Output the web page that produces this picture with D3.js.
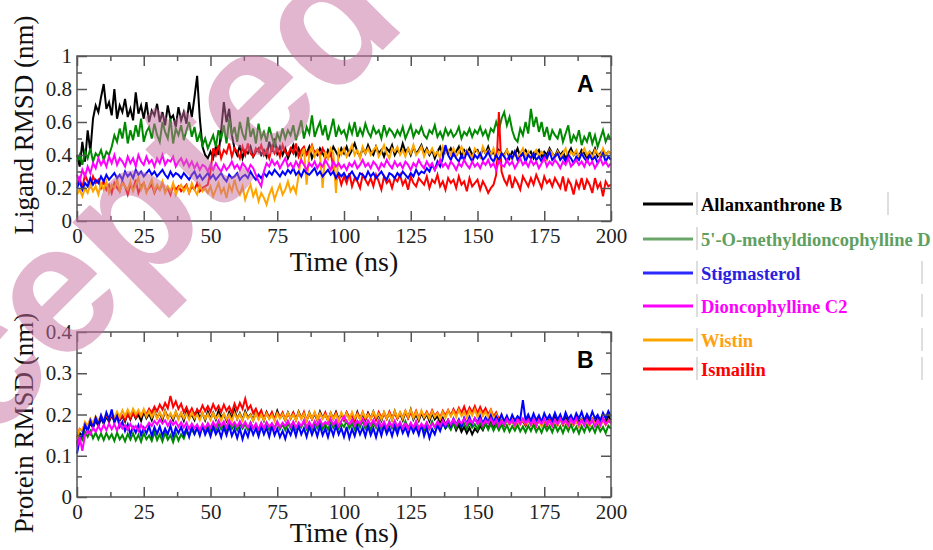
<!DOCTYPE html>
<html>
<head>
<meta charset="utf-8">
<script src="https://cdn.jsdelivr.net/npm/d3@7"></script>
<style>
  body { margin: 0; background: #fff; }
  svg { display: block; }
</style>
</head>
<body>
<div id="chart"></div>
<script>
// ── Data (1 ns sampling, 0–200 ns) ──────────────────────────────────────────
const names = ['Allanxanthrone B', "5'-O-methyldioncophylline D", 'Stigmasterol',
               'Dioncophylline C2', 'Wistin', 'Ismailin'];
const lineColors   = ['#000000', '#008a00', '#0000ff', '#ff00ff', '#ffa500', '#ff0000'];
const legendLine   = ['#000000', '#6aa56a', '#2a2aff', '#ff00ff', '#ffa500', '#ff0000'];
const legendText   = ['#000000', '#5f9f5f', '#2a1fe0', '#ff00ff', '#ffa010', '#ff0000'];
const drawOrder    = [0, 1, 5, 4, 2, 3];

const xTicks = [0, 25, 50, 75, 100, 125, 150, 175, 200];
const ligandTicks  = [0, 0.2, 0.4, 0.6, 0.8, 1];
const proteinTicks = [0, 0.1, 0.2, 0.3, 0.4];

// Ligand RMSD (nm)
const ligAllanxanthrone = [
.40,.33,.48,.36,.55,.42,.62,.70,.66,.75, .83,.68,.72,.64,.80,.62,.70,.66,.74,.63,
.68,.61,.78,.65,.70,.62,.72,.60,.67,.64, .71,.60,.66,.58,.70,.62,.64,.57,.69,.61,
.66,.59,.72,.63,.75,.88,.62,.45,.40,.38, .42,.38,.45,.40,.55,.72,.60,.68,.52,.44,
.40,.46,.38,.43,.41,.45,.39,.42,.44,.40, .43,.39,.48,.42,.50,.41,.45,.40,.44,.38,
.42,.46,.40,.44,.39,.43,.41,.45,.38,.42, .40,.44,.41,.38,.43,.40,.45,.42,.39,.44,
.41,.45,.40,.43,.47,.42,.39,.44,.41,.46, .42,.40,.45,.41,.43,.39,.44,.42,.46,.40,
.43,.41,.47,.42,.44,.40,.45,.41,.43,.46, .41,.44,.40,.43,.38,.42,.45,.40,.43,.41,
.44,.40,.42,.45,.39,.43,.41,.44,.40,.42, .43,.39,.44,.41,.45,.40,.42,.38,.43,.41,
.40,.43,.38,.42,.40,.44,.39,.41,.43,.40, .42,.38,.41,.43,.39,.42,.40,.44,.41,.39,
.43,.40,.42,.38,.41,.44,.40,.42,.39,.43, .41,.38,.42,.40,.44,.39,.41,.43,.40,.42,
.41];
const ligMethyl = [
.36,.40,.34,.42,.38,.44,.36,.41,.39,.43, .37,.42,.40,.45,.52,.48,.56,.50,.60,.47,
.55,.49,.58,.51,.62,.48,.54,.57,.50,.59, .52,.48,.60,.54,.50,.62,.47,.56,.52,.58,
.49,.55,.60,.51,.57,.48,.53,.46,.50,.44, .48,.52,.45,.55,.50,.58,.47,.62,.52,.57,
.48,.60,.53,.49,.63,.51,.56,.47,.59,.50, .54,.48,.57,.51,.46,.53,.49,.56,.50,.55,
.52,.58,.49,.55,.61,.50,.57,.53,.64,.51, .56,.60,.52,.58,.49,.55,.62,.51,.57,.53,
.55,.50,.58,.53,.60,.51,.56,.52,.59,.54, .51,.57,.53,.55,.50,.58,.52,.56,.54,.51,
.55,.52,.57,.50,.54,.58,.51,.55,.53,.57, .52,.50,.55,.53,.58,.51,.54,.50,.56,.52,
.55,.51,.53,.57,.50,.54,.52,.56,.51,.55, .53,.57,.52,.55,.50,.56,.54,.60,.55,.62,
.66,.58,.63,.55,.50,.48,.56,.52,.60,.53, .68,.57,.63,.54,.60,.51,.57,.49,.55,.52,
.50,.56,.48,.53,.58,.47,.52,.49,.55,.46, .51,.48,.54,.47,.52,.45,.50,.55,.48,.52,
.49];
const ligStigmasterol = [
.20,.24,.19,.23,.21,.26,.22,.25,.23,.27, .24,.28,.25,.27,.29,.26,.28,.25,.30,.27,
.29,.26,.31,.28,.30,.27,.29,.31,.28,.30, .27,.29,.31,.28,.26,.30,.27,.29,.28,.26,
.29,.27,.25,.28,.30,.26,.28,.25,.27,.29, .26,.28,.25,.27,.29,.26,.24,.28,.26,.27,
.29,.25,.27,.28,.26,.30,.27,.25,.28,.26, .29,.27,.30,.28,.31,.29,.27,.30,.28,.31,
.29,.32,.28,.30,.27,.31,.29,.28,.30,.32, .28,.30,.27,.29,.31,.28,.30,.26,.29,.27,
.29,.26,.28,.30,.27,.25,.29,.28,.26,.30, .27,.29,.26,.28,.30,.27,.25,.29,.28,.26,
.29,.27,.30,.28,.26,.29,.27,.31,.28,.30, .29,.32,.30,.34,.31,.36,.33,.38,.46,.40,
.37,.41,.38,.36,.40,.37,.42,.39,.36,.40, .38,.41,.37,.39,.42,.38,.36,.40,.37,.41,
.39,.36,.40,.38,.42,.37,.39,.41,.36,.40, .38,.41,.37,.39,.36,.40,.38,.42,.37,.39,
.41,.37,.39,.36,.40,.38,.35,.39,.37,.41, .38,.36,.40,.37,.39,.35,.38,.41,.36,.39,
.37];
const ligDioncophylline = [
.28,.24,.31,.27,.33,.29,.35,.32,.38,.34, .37,.33,.39,.35,.40,.34,.38,.36,.33,.39,
.35,.38,.33,.40,.36,.34,.39,.35,.37,.33, .38,.35,.40,.34,.37,.36,.39,.33,.36,.38,
.34,.37,.33,.36,.32,.35,.31,.34,.33,.30, .34,.31,.35,.32,.30,.34,.31,.33,.36,.32,
.34,.31,.35,.33,.30,.34,.32,.28,.24,.21, .30,.35,.33,.37,.34,.36,.32,.35,.38,.33,
.35,.32,.36,.33,.37,.34,.31,.35,.33,.36, .32,.35,.33,.37,.34,.31,.36,.33,.35,.32,
.34,.31,.35,.33,.36,.32,.34,.37,.33,.35, .32,.36,.34,.31,.35,.33,.37,.34,.32,.36,
.33,.35,.32,.36,.34,.31,.35,.33,.37,.34, .32,.36,.33,.35,.31,.34,.37,.33,.35,.32,
.36,.34,.31,.35,.33,.37,.34,.32,.36,.33, .35,.32,.36,.34,.37,.33,.35,.31,.36,.34,
.33,.37,.34,.36,.32,.35,.38,.34,.36,.33, .37,.34,.36,.32,.35,.38,.33,.36,.34,.37,
.35,.32,.36,.34,.38,.33,.35,.37,.34,.36, .33,.37,.34,.36,.32,.35,.38,.34,.36,.33,
.35];
const ligWistin = [
.16,.19,.15,.20,.17,.22,.18,.21,.16,.23, .19,.24,.17,.22,.20,.25,.18,.23,.21,.19,
.24,.18,.22,.26,.19,.23,.17,.21,.25,.18, .22,.19,.24,.17,.21,.18,.23,.16,.20,.22,
.18,.21,.17,.23,.19,.16,.22,.18,.20,.17, .21,.15,.19,.23,.17,.20,.14,.22,.18,.25,
.19,.16,.21,.13,.18,.22,.15,.19,.12,.17, .14,.10,.16,.20,.13,.18,.22,.16,.19,.24,
.18,.21,.17,.28,.40,.44,.22,.41,.45,.39, .43,.40,.20,.42,.38,.44,.41,.17,.43,.40,
.44,.39,.42,.46,.40,.43,.38,.45,.41,.44, .40,.43,.45,.39,.42,.46,.41,.38,.44,.42,
.45,.40,.43,.39,.44,.41,.46,.40,.42,.45, .39,.43,.41,.44,.40,.42,.38,.45,.41,.43,
.40,.44,.39,.42,.45,.40,.43,.41,.38,.44, .42,.39,.45,.41,.43,.40,.44,.38,.42,.41,
.39,.43,.40,.37,.42,.38,.41,.44,.39,.42, .38,.41,.43,.39,.42,.40,.37,.43,.41,.38,
.42,.39,.41,.44,.38,.42,.40,.43,.39,.41, .44,.40,.42,.38,.43,.41,.39,.44,.40,.42,
.41];
const ligIsmailin = [
.22,.26,.20,.28,.24,.21,.27,.23,.25,.20, .24,.19,.22,.17,.23,.20,.18,.24,.21,.16,
.22,.19,.25,.17,.21,.23,.18,.20,.22,.17, .21,.19,.23,.18,.20,.16,.22,.19,.21,.18,
.20,.22,.17,.21,.19,.23,.18,.20,.21,.22, .30,.44,.40,.46,.38,.43,.41,.47,.39,.44,
.42,.38,.45,.40,.47,.41,.39,.44,.42,.46, .40,.43,.38,.45,.41,.44,.39,.46,.42,.40,
.44,.41,.47,.39,.43,.45,.40,.42,.46,.41, .43,.39,.44,.41,.38,.42,.32,.24,.28,.22,
.27,.23,.29,.21,.26,.24,.20,.28,.25,.22, .26,.21,.28,.24,.19,.27,.23,.25,.20,.26,
.24,.28,.22,.25,.19,.27,.23,.21,.26,.24, .22,.27,.20,.25,.23,.28,.21,.24,.19,.26,
.23,.25,.20,.27,.22,.24,.18,.26,.21,.23, .25,.19,.24,.21,.17,.20,.22,.28,.66,.30,
.25,.22,.28,.20,.26,.23,.19,.27,.24,.21, .26,.22,.28,.24,.20,.27,.23,.25,.21,.26,
.23,.20,.27,.18,.25,.22,.16,.24,.20,.26, .19,.25,.22,.17,.26,.20,.23,.15,.24,.21,
.22];

// Protein RMSD (nm)
const protAllanxanthrone = [
.130,.155,.148,.172,.160,.180,.168,.186,.172,.190, .178,.195,.182,.198,.184,.201,.186,.196,.183,.203,
.188,.206,.190,.200,.185,.207,.191,.202,.186,.208, .192,.204,.187,.209,.193,.201,.186,.206,.190,.203,
.185,.208,.192,.200,.187,.210,.191,.203,.186,.207, .190,.204,.188,.209,.193,.201,.185,.206,.191,.211,
.189,.203,.187,.208,.192,.200,.186,.207,.190,.202, .185,.206,.191,.203,.188,.209,.192,.200,.186,.205,
.190,.203,.187,.207,.192,.199,.185,.205,.189,.202, .186,.207,.191,.200,.185,.204,.190,.206,.188,.201,
.186,.205,.190,.199,.184,.206,.189,.201,.186,.204, .190,.207,.188,.200,.185,.205,.191,.203,.187,.208,
.190,.202,.186,.206,.192,.212,.188,.200,.185,.204, .189,.201,.184,.203,.188,.196,.180,.192,.176,.186,
.170,.180,.162,.175,.158,.170,.155,.168,.152,.166, .158,.172,.162,.178,.166,.182,.170,.185,.172,.188,
.174,.189,.176,.186,.172,.190,.177,.185,.173,.191, .176,.188,.174,.192,.178,.186,.173,.190,.177,.194,
.179,.189,.175,.193,.180,.188,.176,.195,.181,.190, .177,.194,.182,.190,.178,.196,.183,.191,.179,.197,
.186];
const protMethyl = [
.125,.145,.138,.158,.146,.160,.142,.156,.140,.154, .138,.155,.141,.152,.136,.156,.140,.150,.135,.153,
.139,.154,.137,.151,.134,.155,.140,.149,.136,.157, .138,.152,.135,.156,.139,.150,.133,.154,.137,.152,
.142,.160,.148,.165,.152,.168,.155,.170,.158,.172, .160,.175,.162,.178,.164,.176,.161,.180,.165,.174,
.162,.179,.166,.177,.163,.181,.167,.175,.161,.178, .165,.180,.163,.177,.168,.182,.164,.176,.162,.179,
.166,.181,.164,.178,.169,.183,.165,.177,.163,.180, .167,.182,.165,.176,.163,.180,.168,.184,.166,.178,
.170,.184,.167,.179,.164,.182,.169,.186,.166,.177, .163,.181,.168,.185,.165,.179,.162,.183,.167,.176,
.164,.180,.166,.184,.169,.178,.163,.182,.167,.175, .162,.179,.165,.183,.168,.177,.164,.181,.166,.174,
.163,.180,.167,.184,.170,.178,.165,.182,.168,.176, .164,.181,.166,.179,.163,.177,.161,.175,.162,.176,
.160,.174,.158,.172,.161,.175,.159,.171,.157,.173, .160,.176,.158,.170,.156,.174,.161,.172,.157,.175,
.159,.171,.155,.173,.160,.176,.158,.170,.154,.172, .158,.175,.160,.171,.156,.174,.159,.170,.155,.173,
.165];
const protStigmasterol = [
.105,.140,.150,.175,.160,.185,.168,.192,.175,.198, .180,.205,.188,.212,.180,.196,.170,.182,.160,.176,
.152,.170,.156,.174,.150,.168,.154,.172,.148,.169, .153,.171,.149,.166,.152,.173,.147,.168,.155,.170,
.150,.167,.146,.171,.153,.168,.149,.172,.151,.166, .147,.170,.152,.165,.145,.169,.150,.172,.148,.164,
.143,.166,.140,.162,.146,.170,.151,.167,.147,.171, .152,.168,.146,.172,.150,.166,.145,.160,.141,.164,
.150,.170,.148,.173,.152,.167,.146,.171,.151,.168, .147,.172,.150,.166,.145,.169,.149,.173,.152,.167,
.146,.170,.143,.165,.148,.171,.152,.168,.147,.172, .150,.167,.145,.170,.149,.174,.153,.168,.148,.171,
.152,.175,.155,.169,.150,.173,.156,.170,.151,.176, .148,.168,.143,.165,.152,.174,.160,.180,.168,.186,
.172,.190,.176,.188,.170,.192,.178,.194,.176,.191, .180,.196,.178,.193,.182,.198,.180,.195,.184,.200,
.183,.197,.181,.199,.185,.196,.188,.235,.186,.200, .184,.202,.186,.198,.182,.203,.188,.199,.185,.204,
.187,.200,.183,.205,.189,.198,.184,.203,.190,.206, .186,.201,.188,.207,.190,.199,.185,.204,.191,.208,
.195];
const protDioncophylline = [
.120,.145,.112,.150,.160,.152,.168,.158,.172,.160, .175,.162,.178,.164,.176,.161,.179,.166,.174,.163,
.177,.165,.172,.160,.175,.163,.170,.180,.172,.184, .176,.188,.178,.186,.172,.185,.175,.183,.170,.181,
.168,.180,.165,.178,.167,.176,.162,.177,.166,.179, .168,.182,.170,.185,.172,.183,.169,.186,.173,.181,
.170,.184,.171,.182,.168,.180,.166,.178,.164,.180, .167,.181,.170,.179,.165,.183,.169,.180,.172,.185,
.171,.183,.168,.181,.172,.186,.170,.182,.169,.184, .173,.187,.174,.182,.176,.189,.175,.186,.172,.184,
.195,.183,.176,.188,.174,.185,.177,.189,.173,.186, .175,.187,.172,.184,.170,.183,.168,.182,.171,.185,
.170,.181,.167,.179,.165,.180,.168,.183,.166,.178, .169,.181,.165,.178,.170,.183,.172,.186,.174,.187,
.176,.189,.175,.185,.178,.190,.176,.188,.179,.191, .177,.188,.174,.186,.178,.190,.175,.187,.172,.185,
.176,.189,.178,.186,.174,.188,.177,.190,.179,.187, .175,.188,.173,.186,.177,.189,.176,.185,.172,.187,
.176,.190,.178,.186,.174,.189,.177,.191,.175,.186, .173,.188,.176,.185,.171,.187,.174,.190,.176,.184,
.180];
const protWistin = [
.140,.165,.160,.182,.172,.190,.180,.195,.184,.198, .186,.201,.189,.204,.192,.207,.193,.210,.196,.212,
.198,.214,.200,.211,.197,.213,.195,.208,.193,.206, .190,.205,.192,.208,.189,.203,.191,.207,.188,.204,
.190,.202,.187,.205,.191,.200,.186,.204,.189,.201, .187,.203,.190,.199,.185,.202,.188,.200,.184,.203,
.189,.201,.186,.204,.190,.199,.185,.203,.188,.200, .186,.202,.189,.199,.184,.203,.190,.201,.187,.204,
.191,.200,.186,.205,.189,.202,.185,.204,.190,.206, .188,.203,.190,.200,.186,.204,.189,.201,.185,.205,
.190,.203,.187,.206,.191,.201,.188,.205,.192,.200, .189,.207,.193,.202,.188,.206,.191,.203,.187,.208,
.192,.205,.190,.209,.194,.212,.191,.206,.189,.210, .193,.204,.190,.207,.194,.203,.189,.206,.192,.209,
.195,.208,.193,.211,.196,.206,.192,.210,.197,.212, .194,.209,.196,.207,.193,.210,.190,.200,.184,.194,
.178,.190,.176,.188,.172,.186,.175,.189,.177,.185, .173,.187,.175,.184,.171,.188,.176,.183,.172,.186,
.174,.189,.177,.185,.172,.187,.175,.184,.171,.188, .176,.185,.173,.188,.177,.184,.172,.187,.175,.183,
.178];
const protIsmailin = [
.145,.165,.160,.180,.170,.188,.176,.192,.180,.195, .184,.198,.187,.200,.185,.202,.189,.197,.186,.201,
.190,.204,.192,.206,.195,.210,.200,.214,.204,.219, .208,.224,.212,.228,.215,.245,.218,.232,.214,.226,
.205,.218,.202,.215,.199,.212,.206,.222,.208,.220, .207,.225,.210,.221,.206,.224,.209,.219,.204,.226,
.210,.228,.214,.238,.212,.222,.203,.214,.198,.210, .190,.204,.192,.206,.189,.203,.193,.205,.188,.202,
.191,.205,.187,.203,.190,.206,.186,.201,.189,.204, .188,.202,.191,.205,.187,.200,.190,.204,.186,.201,
.189,.205,.192,.200,.186,.203,.190,.206,.188,.202, .191,.204,.187,.206,.193,.202,.189,.207,.192,.203,
.190,.205,.193,.208,.191,.204,.194,.209,.192,.206, .195,.207,.193,.210,.196,.205,.192,.209,.197,.211,
.198,.213,.200,.216,.203,.219,.201,.217,.205,.220, .202,.218,.204,.215,.200,.212,.195,.205,.188,.198,
.176,.190,.178,.186,.173,.189,.177,.185,.174,.188, .175,.187,.172,.189,.176,.184,.173,.188,.177,.185,
.174,.189,.176,.186,.172,.188,.175,.184,.171,.187, .176,.185,.173,.189,.177,.184,.172,.188,.175,.186,
.180];

const ligandSeries  = [ligAllanxanthrone, ligMethyl, ligStigmasterol, ligDioncophylline, ligWistin, ligIsmailin];
const proteinSeries = [protAllanxanthrone, protMethyl, protStigmasterol, protDioncophylline, protWistin, protIsmailin];

// ── Layout ───────────────────────────────────────────────────────────────────
const W = 933, H = 550;
const svg = d3.select('#chart').append('svg').attr('width', W).attr('height', H);

const panels = [
  { series: ligandSeries,  top: 56,  bottom: 221, yMax: 1,   yTicks: ligandTicks,  yStep: 0.1,
    yTitle: 'Ligand RMSD (nm)',  yTitleY: 125, xTitleY: 271, tag: 'A' },
  { series: proteinSeries, top: 332, bottom: 497, yMax: 0.4, yTicks: proteinTicks, yStep: 0.05,
    yTitle: 'Protein RMSD (nm)', yTitleY: 423, xTitleY: 542, tag: 'B' }
];
const left = 77, right = 611;
const frameColor = '#555';
const serif = '"Liberation Serif", "Times New Roman", serif';

panels.forEach(p => {
  const x = d3.scaleLinear().domain([0, 200]).range([left, right]);
  const y = d3.scaleLinear().domain([0, p.yMax]).range([p.bottom, p.top]);
  const g = svg.append('g');

  // traces
  const line = d3.line().x((d, i) => x(i)).y(d => y(d));
  drawOrder.forEach(k => {
    g.append('path')
      .datum(p.series[k])
      .attr('d', line)
      .attr('fill', 'none')
      .attr('stroke', lineColors[k])
      .attr('stroke-width', 2);
  });

  // minor tick values
  const xMinor = d3.range(12.5, 200, 25);
  const yMinor = p.yTicks.slice(0, -1).map(v => +(v + p.yStep).toFixed(3));
  const fmtY = d => String(+d.toFixed(2));

  const styleAxis = sel => {
    sel.select('.domain').remove();
    sel.selectAll('line').attr('stroke', frameColor).attr('stroke-width', 1.5);
    sel.selectAll('text')
      .attr('fill', '#222')
      .style('font-family', serif)
      .style('font-size', '21px');
  };

  // bottom
  g.append('g').attr('transform', `translate(0,${p.bottom})`)
    .call(d3.axisBottom(x).tickValues(xTicks).tickSize(-10).tickPadding(7).tickFormat(d3.format('d')))
    .call(styleAxis);
  g.append('g').attr('transform', `translate(0,${p.bottom})`)
    .call(d3.axisBottom(x).tickValues(xMinor).tickSize(-5).tickFormat(''))
    .call(styleAxis);
  // top
  g.append('g').attr('transform', `translate(0,${p.top})`)
    .call(d3.axisTop(x).tickValues(xTicks).tickSize(-10).tickFormat(''))
    .call(styleAxis);
  g.append('g').attr('transform', `translate(0,${p.top})`)
    .call(d3.axisTop(x).tickValues(xMinor).tickSize(-5).tickFormat(''))
    .call(styleAxis);
  // left
  g.append('g').attr('transform', `translate(${left},0)`)
    .call(d3.axisLeft(y).tickValues(p.yTicks).tickSize(-10).tickPadding(5).tickFormat(fmtY))
    .call(styleAxis);
  g.append('g').attr('transform', `translate(${left},0)`)
    .call(d3.axisLeft(y).tickValues(yMinor).tickSize(-5).tickFormat(''))
    .call(styleAxis);
  // right
  g.append('g').attr('transform', `translate(${right},0)`)
    .call(d3.axisRight(y).tickValues(p.yTicks).tickSize(-10).tickFormat(''))
    .call(styleAxis);
  g.append('g').attr('transform', `translate(${right},0)`)
    .call(d3.axisRight(y).tickValues(yMinor).tickSize(-5).tickFormat(''))
    .call(styleAxis);

  // frame
  g.append('rect')
    .attr('x', left).attr('y', p.top)
    .attr('width', right - left).attr('height', p.bottom - p.top)
    .attr('fill', 'none').attr('stroke', frameColor).attr('stroke-width', 1.5);

  // titles
  g.append('text')
    .attr('x', (left + right) / 2).attr('y', p.xTitleY)
    .attr('text-anchor', 'middle')
    .style('font-family', serif)
    .style('font-size', '28px').attr('fill', '#111')
    .text('Time (ns)');
  g.append('text')
    .attr('transform', `translate(33,${p.yTitleY}) rotate(-90)`)
    .attr('text-anchor', 'middle')
    .style('font-family', serif)
    .style('font-size', '27px').attr('fill', '#111')
    .text(p.yTitle);

  // panel tag
  g.append('text')
    .attr('x', 577).attr('y', p.top + 36)
    .style('font-family', '"Liberation Sans", Arial, sans-serif')
    .style('font-weight', 'bold').style('font-size', '23px')
    .attr('fill', '#000')
    .text(p.tag);
});

// ── Legend (table-like, beside the plots) ────────────────────────────────────
const legendY = [204, 239, 273, 306, 340, 369];
const rightBars = [888, null, 922, 922, 922, 922];
const lg = svg.append('g');
names.forEach((n, i) => {
  const yy = legendY[i];
  lg.append('line').attr('x1', 643).attr('x2', 693).attr('y1', yy).attr('y2', yy)
    .attr('stroke', legendLine[i]).attr('stroke-width', 3);
  lg.append('line').attr('x1', 697).attr('x2', 697).attr('y1', yy - 12).attr('y2', yy + 11)
    .attr('stroke', '#c8c8c8').attr('stroke-width', 1.2);
  if (rightBars[i]) {
    lg.append('line').attr('x1', rightBars[i]).attr('x2', rightBars[i])
      .attr('y1', yy - 12).attr('y2', yy + 11)
      .attr('stroke', '#c8c8c8').attr('stroke-width', 1.2);
  }
  lg.append('text')
    .attr('x', 701).attr('y', yy + 7)
    .style('font-family', serif)
    .style('font-weight', 'bold').style('font-size', '18.5px')
    .attr('fill', legendText[i])
    .text(n);
});

// ── Watermark ────────────────────────────────────────────────────────────────
svg.append('text')
  .attr('transform', 'translate(-180,613) rotate(-45)')
  .style('font-family', '"Liberation Sans", Arial, sans-serif')
  .style('font-weight', 'bold').style('font-size', '185px')
  .attr('fill', 'rgb(200,110,160)').attr('fill-opacity', 0.5)
  .style('pointer-events', 'none')
  .text('Accepted');
</script>
</body>
</html>
